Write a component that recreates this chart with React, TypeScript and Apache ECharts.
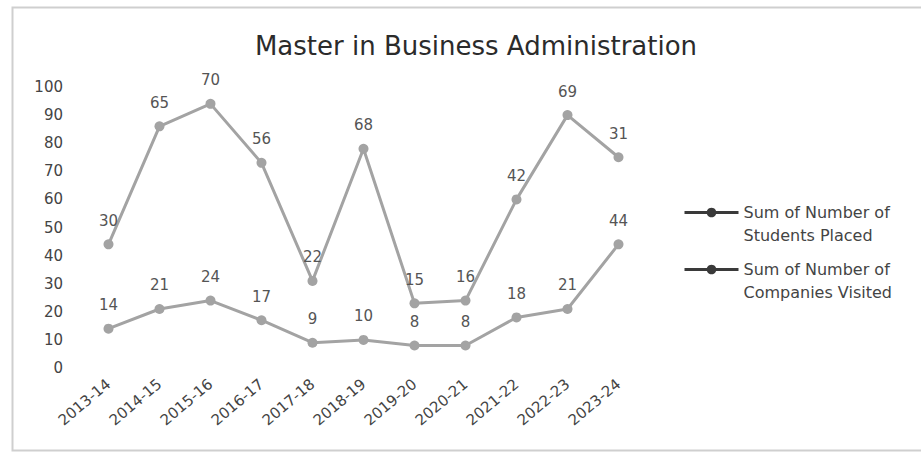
import React, { useEffect, useRef } from "react";
import * as echarts from "echarts";

const categories = ["2013-14", "2014-15", "2015-16", "2016-17", "2017-18", "2018-19", "2019-20", "2020-21", "2021-22", "2022-23", "2023-24"];
const studentsPlaced = [14, 21, 24, 17, 9, 10, 8, 8, 18, 21, 44];
const companiesVisited = [30, 65, 70, 56, 22, 68, 15, 16, 42, 69, 31];
const seriesNames = ["Sum of Number of\nStudents Placed", "Sum of Number of\nCompanies Visited"];
const titleText = "Master in Business Administration";

const FONT = "'DejaVu Sans', sans-serif";
const LINE = "#a3a3a3";

export default function App() {
  const ref = useRef<HTMLDivElement>(null);
  useEffect(() => {
    if (!ref.current) return;
    const chart = echarts.init(ref.current, undefined, { renderer: "svg" });
    const mkSeries = (name: string, data: number[]) => ({
      name,
      type: "line",
      stack: "total",
      data,
      symbol: "circle",
      symbolSize: 10,
      lineStyle: { color: LINE, width: 3 },
      itemStyle: { color: LINE },
      label: {
        show: true,
        position: "top",
        distance: 11,
        color: "#555",
        fontSize: 15,
        fontFamily: FONT,
      },
    });
    chart.setOption({
      animation: false,
      backgroundColor: "#fff",
      title: {
        text: titleText,
        left: 471,
        textAlign: "center",
        top: 28,
        textStyle: { fontFamily: FONT, fontSize: 26, fontWeight: "normal", color: "#2b2b2b" },
      },
      graphic: [
        {
          type: "rect",
          shape: { x: 12.5, y: 7.5, width: 920, height: 443 },
          style: { fill: "none", stroke: "#cfcfcf", lineWidth: 2 },
          silent: true,
        },
      ],
      legend: {
        orient: "vertical",
        left: 678,
        top: 173,
        itemGap: -12,
        itemWidth: 54,
        itemHeight: 12,
        data: seriesNames,
        formatter: (name: string) => " \n" + name,
        lineStyle: { color: "#3a3a3a", width: 3 },
        itemStyle: { color: "#3a3a3a" },
        textStyle: { fontFamily: FONT, fontSize: 16, color: "#444", lineHeight: 23 },
      },
      grid: { left: 83, top: 87, width: 561, height: 281, containLabel: false },
      xAxis: {
        type: "category",
        data: categories,
        boundaryGap: true,
        axisLine: { show: false },
        axisTick: { show: false },
        axisLabel: {
          rotate: 40,
          margin: 14,
          interval: 0,
          fontFamily: FONT,
          fontSize: 15,
          color: "#444",
        },
      },
      yAxis: {
        type: "value",
        min: 0,
        max: 100,
        interval: 10,
        axisLine: { show: false },
        axisTick: { show: false },
        splitLine: { show: false },
        axisLabel: { margin: 20, fontFamily: FONT, fontSize: 15, color: "#444" },
      },
      series: [mkSeries(seriesNames[0], studentsPlaced), mkSeries(seriesNames[1], companiesVisited)],
    });
    return () => chart.dispose();
  }, []);
  return <div ref={ref} style={{ position: "fixed", left: 0, top: 0, width: 921, height: 453 }} />;
}
